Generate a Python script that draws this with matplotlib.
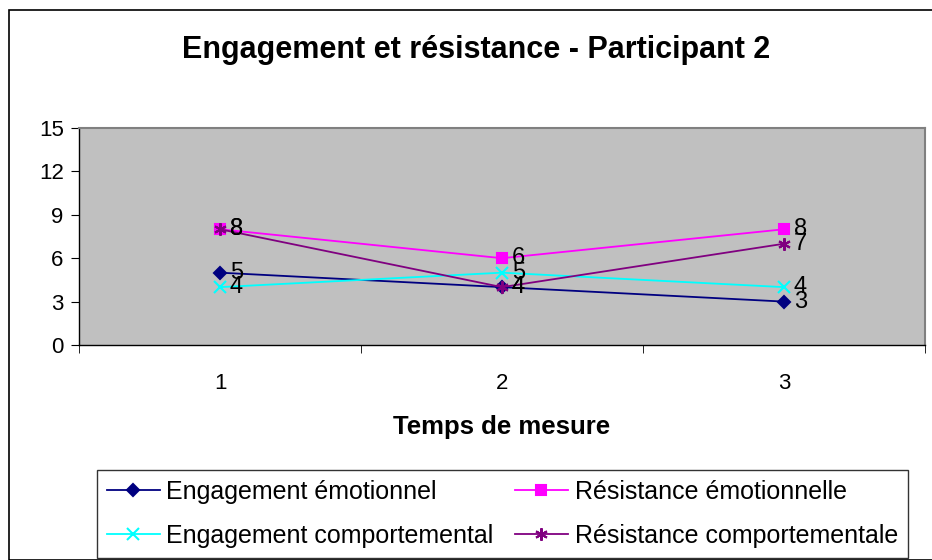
import matplotlib.pyplot as plt
from matplotlib.patches import Rectangle

plt.rcParams['font.family'] = ['Liberation Sans', 'DejaVu Sans']

temps = [1, 2, 3]
eng_emo = [5, 4, 3]
res_emo = [8, 6, 8]
eng_comp = [4, 5, 4]
res_comp = [8, 4, 7]

series = [
    ('Engagement émotionnel', eng_emo, '#000080', 'D', 6.5),
    ('Résistance émotionnelle', res_emo, '#FF00FF', 's', 7),
    ('Engagement comportemental', eng_comp, '#00FFFF', 'x', 8.5),
    ('Résistance comportementale', res_comp, '#800080', (6, 2, 0), 9),
]

W, H = 932, 560
fig = plt.figure(figsize=(W / 100, H / 100), dpi=100)

# cadre du graphique
fig.patches.append(Rectangle((9 / W, 0), 1, 1 - 10 / H, transform=fig.transFigure,
                             fill=False, edgecolor='black', linewidth=1.2))

ax = fig.add_axes([79 / W, 1 - 345 / H, (925 - 79) / W, (345 - 128) / H])
ax.set_facecolor('#C0C0C0')

handles = {}
for label, vals, color, marker, ms in series:
    h, = ax.plot(temps, vals, color=color, marker=marker, markersize=ms,
                 markeredgecolor=color, markeredgewidth=1.5, linewidth=1.3, label=label)
    handles[label] = h
    for x, y in zip(temps, vals):
        ax.annotate(str(y), (x, y), xytext=(7, 0), textcoords='offset points',
                    ha='left', va='center', fontsize=17)

ax.set_xlim(0.5, 3.5)
ax.set_ylim(0, 15)
ax.set_yticks(range(0, 16, 3))
ax.set_xticks(temps)
ax.set_xticks([0.5, 1.5, 2.5, 3.5], minor=True)
ax.tick_params(axis='x', which='major', length=0, pad=20, labelsize=16)
ax.tick_params(axis='x', which='minor', length=6, direction='out', color='black')
ax.tick_params(axis='y', length=6, direction='out', labelsize=16, pad=5)

for s in ['top', 'right']:
    ax.spines[s].set_color('#808080')
    ax.spines[s].set_linewidth(1.5)
for s in ['left', 'bottom']:
    ax.spines[s].set_color('black')
    ax.spines[s].set_linewidth(1.0)

ax.set_xlabel('Temps de mesure', fontsize=18.5, fontweight='bold', labelpad=15)

fig.text(476 / W, 1 - 50 / H, 'Engagement et résistance - Participant 2',
         ha='center', va='center', fontsize=22, fontweight='bold')

# ordre : colonne 1 = engagements, colonne 2 = résistances
order = ['Engagement émotionnel', 'Engagement comportemental',
         'Résistance émotionnelle', 'Résistance comportementale']
leg = fig.legend([handles[k] for k in order], order,
                 loc='lower left', bbox_to_anchor=(97 / W, 2 / H, (908 - 97) / W, (558 - 473) / H),
                 mode='expand', ncol=2, fontsize=18, frameon=True, fancybox=False,
                 handlelength=2.1, handletextpad=0.28, borderaxespad=0, columnspacing=0.4,
                 labelspacing=0.8, borderpad=0.4)
leg.get_frame().set_edgecolor('black')
leg.get_frame().set_linewidth(1.0)

fig.savefig('out.png', dpi=100)
